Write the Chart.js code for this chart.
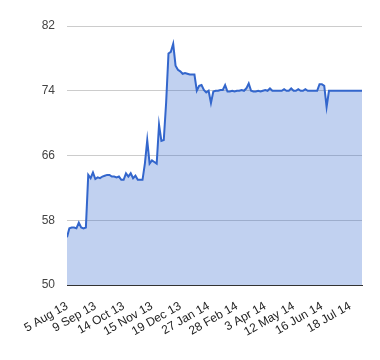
<!DOCTYPE html>
<html lang="en">
<head>
    <meta charset="UTF-8">
    <title>Price chart</title>
    <script src="https://cdn.jsdelivr.net/npm/chart.js"></script>
    <style>
        body { margin: 0; background: #fff; }
        .wrap { width: 380px; height: 360px; }
    </style>
</head>
<body>
    <div class="wrap"><canvas id="graphique"></canvas></div>

    <script>
        // tick labels, one every 12 points (about 24 trading days)
        const tickLabels = ['5 Aug 13', '9 Sep 13', '14 Oct 13', '15 Nov 13', '19 Dec 13',
            '27 Jan 14', '28 Feb 14', '3 Apr 14', '12 May 14', '16 Jun 14', '18 Jul 14'];
        const labelStep = 12;

        // values, one point every two trading days
        const prices = [
            55.9, 57.0, 57.1, 57.1, 57.0, 57.7, 57.1, 57.0, 57.1, 63.6,
            63.2, 63.9, 63.1, 63.3, 63.2, 63.4, 63.5, 63.6, 63.6, 63.4,
            63.4, 63.3, 63.4, 63.0, 63.0, 63.8, 63.4, 63.8, 63.2, 63.5,
            63.0, 63.0, 63.0, 65.0, 67.9, 65.0, 65.4, 65.2, 65.0, 69.8,
            67.8, 67.9, 72.5, 78.6, 78.8, 79.8, 77.1, 76.6, 76.4, 76.1,
            76.2, 76.1, 76.0, 76.0, 76.0, 74.0, 74.6, 74.7, 74.1, 73.8,
            74.0, 72.5, 73.9, 74.0, 74.0, 74.1, 74.1, 74.7, 73.9, 73.9,
            74.0, 73.9, 74.0, 74.0, 74.1, 74.0, 74.3, 74.9, 74.0, 73.9,
            73.9, 74.0, 73.9, 74.0, 74.1, 74.0, 74.3, 74.0, 74.0, 74.0,
            74.0, 74.0, 74.2, 74.0, 74.0, 74.3, 74.0, 74.0, 74.2, 74.0,
            74.0, 74.2, 74.0, 74.0, 74.0, 74.0, 74.0, 74.8, 74.8, 74.6,
            72.0, 74.0, 74.0, 74.0, 74.0, 74.0, 74.0, 74.0, 74.0, 74.0,
            74.0, 74.0, 74.0, 74.0, 74.0, 74.0
        ];
        const yMin = 50, yMax = 82, yStep = 8;

        const ctx = document.getElementById('graphique').getContext('2d');
        const chart = new Chart(ctx, {
            type: 'line',
            data: {
                datasets: [{
                    data: prices.map((v, i) => ({ x: i, y: v })),
                    borderColor: '#3366cc',
                    backgroundColor: 'rgba(51,102,204,0.3)',
                    borderWidth: 2,
                    pointRadius: 0,
                    tension: 0,
                    fill: 'start'
                }]
            },
            options: {
                responsive: true,
                maintainAspectRatio: false,
                animation: false,
                layout: { padding: { top: 26, right: 18, bottom: 0, left: 0 } },
                plugins: { legend: { display: false }, tooltip: { enabled: false } },
                scales: {
                    x: {
                        type: 'linear',
                        min: 0,
                        max: prices.length - 1,
                        grid: { display: false },
                        border: { display: true, color: '#333', width: 1 },
                        afterFit: (scale) => { scale.height = 75; },
                        ticks: {
                            stepSize: labelStep,
                            includeBounds: false,
                            autoSkip: false,
                            minRotation: 30,
                            maxRotation: 30,
                            padding: 6,
                            color: '#222',
                            font: { family: 'Liberation Sans, Arial', size: 12 },
                            callback: (v) => v % labelStep === 0 ? tickLabels[v / labelStep] : null
                        }
                    },
                    y: {
                        min: yMin,
                        max: yMax,
                        grid: { color: '#cccccc', drawTicks: false },
                        border: { display: false },
                        afterFit: (scale) => { scale.width = 67; },
                        ticks: {
                            stepSize: yStep,
                            padding: 12,
                            color: '#444',
                            font: { family: 'Liberation Sans, Arial', size: 12 }
                        }
                    }
                }
            }
        });
    </script>
</body>
</html>
